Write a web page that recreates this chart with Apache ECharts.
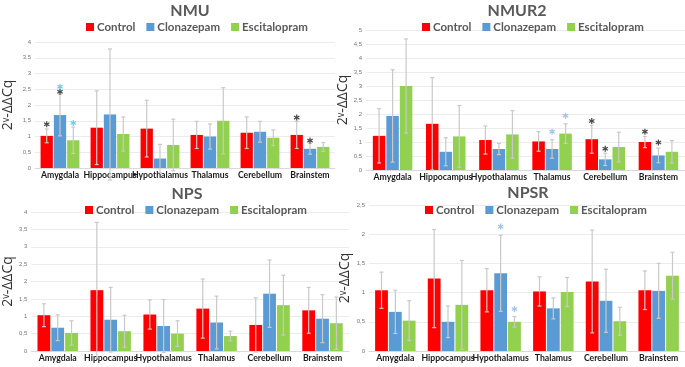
<!DOCTYPE html>
<html>
<head>
<meta charset="utf-8">
<script src="https://cdn.jsdelivr.net/npm/echarts@6/dist/echarts.min.js"></script>
<style>
  html, body { margin: 0; padding: 0; background: #fff; }
  #chart { width: 685px; height: 367px; }
</style>
</head>
<body>
<div id="chart"></div>
<script>
const regions = ["Amygdala", "Hippocampus", "Hypothalamus", "Thalamus", "Cerebellum", "Brainstem"];
const groups = ["Control", "Clonazepam", "Escitalopram"];

// NMU
const nmuControl = [1.02, 1.28, 1.25, 1.05, 1.12, 1.05];
const nmuControlErr = [0.22, 1.17, 0.9, 0.43, 0.5, 0.43];
const nmuClonazepam = [1.68, 1.7, 0.3, 1.0, 1.15, 0.61];
const nmuClonazepamErr = [0.66, 2.08, 0.45, 0.4, 0.33, 0.17];
const nmuEscitalopram = [0.88, 1.08, 0.73, 1.5, 0.96, 0.67];
const nmuEscitalopramErr = [0.42, 0.54, 0.82, 1.05, 0.25, 0.14];
// [group, region, height, colour key]
const nmuStars = [[0, 0, 1.39, "k"], [1, 0, 2.42, "k"], [1, 0, 2.58, "c"], [2, 0, 1.43, "c"], [0, 5, 1.6, "k"], [1, 5, 0.87, "k"]];

// NMUR2
const nmur2Control = [1.22, 1.65, 1.07, 1.02, 1.1, 1.0];
const nmur2ControlErr = [0.97, 1.65, 0.5, 0.35, 0.5, 0.2];
const nmur2Clonazepam = [1.93, 0.65, 0.75, 0.75, 0.38, 0.52];
const nmur2ClonazepamErr = [1.65, 0.5, 0.2, 0.33, 0.22, 0.26];
const nmur2Escitalopram = [3.0, 1.2, 1.27, 1.3, 0.82, 0.65];
const nmur2EscitalopramErr = [1.68, 1.1, 0.85, 0.35, 0.53, 0.4];
const nmur2Stars = [[1, 3, 1.37, "b"], [2, 3, 1.94, "b"], [0, 4, 1.75, "k"], [1, 4, 0.76, "k"], [0, 5, 1.37, "k"], [1, 5, 0.98, "k"]];

// NPS
const npsControl = [1.03, 1.75, 1.05, 1.22, 0.75, 1.17];
const npsControlErr = [0.33, 1.95, 0.42, 0.85, 0.78, 0.66];
const npsClonazepam = [0.67, 0.9, 0.72, 0.82, 1.65, 0.93];
const npsClonazepamErr = [0.37, 0.93, 0.76, 0.76, 0.97, 0.69];
const npsEscitalopram = [0.52, 0.57, 0.5, 0.43, 1.32, 0.8];
const npsEscitalopramErr = [0.35, 0.46, 0.37, 0.14, 0.86, 0.75];
const npsStars = [];

// NPSR
const npsrControl = [1.04, 1.24, 1.04, 1.02, 1.19, 1.04];
const npsrControlErr = [0.31, 0.84, 0.37, 0.25, 0.88, 0.33];
const npsrClonazepam = [0.67, 0.5, 1.33, 0.73, 0.86, 1.03];
const npsrClonazepamErr = [0.37, 0.27, 0.65, 0.18, 0.54, 0.47];
const npsrEscitalopram = [0.52, 0.79, 0.5, 1.01, 0.51, 1.29];
const npsrEscitalopramErr = [0.34, 0.76, 0.09, 0.25, 0.24, 0.4];
const npsrStars = [[1, 2, 2.13, "b"], [2, 2, 0.72, "b"]];

const COLORS = ["#ff0000", "#5b9bd5", "#92d050"];
const STAR_COLORS = { k: "#1a1a1a", c: "#3cc6e8", b: "#8fb3e3" };
const FONT = "Lato, 'Open Sans', sans-serif";
const STAR = "path://M4,0h2v3.3l2.9-1.7 1,1.7-2.9,1.7 2.9,1.7-1,1.7-2.9-1.7v3.3h-2v-3.3l-2.9,1.7-1-1.7 2.9-1.7-2.9-1.7 1-1.7 2.9,1.7z";

const panels = [
  { title: "NMU", cx: 185, top: -2, legendLeft: 86, legendTop: 21, grid: { left: 33, top: 42, width: 302, height: 126 }, max: 4, bw: 12.3, nameGap: 20,
    vals: [nmuControl, nmuClonazepam, nmuEscitalopram], errs: [nmuControlErr, nmuClonazepamErr, nmuEscitalopramErr], stars: nmuStars },
  { title: "NMUR2", cx: 512, top: -2, legendLeft: 422, legendTop: 21, grid: { left: 366, top: 30, width: 323, height: 140 }, max: 5, bw: 12.5, nameGap: 13,
    vals: [nmur2Control, nmur2Clonazepam, nmur2Escitalopram], errs: [nmur2ControlErr, nmur2ClonazepamErr, nmur2EscitalopramErr], stars: nmur2Stars },
  { title: "NPS", cx: 182, top: 181, legendLeft: 85, legendTop: 204, grid: { left: 27, top: 212, width: 322, height: 139 }, max: 4, bw: 12.8, nameGap: 12,
    vals: [npsControl, npsClonazepam, npsEscitalopram], errs: [npsControlErr, npsClonazepamErr, npsEscitalopramErr], stars: npsStars },
  { title: "NPSR", cx: 523, top: 180, legendLeft: 425, legendTop: 204, grid: { left: 369, top: 205, width: 316, height: 146 }, max: 2.5, bw: 12.8, nameGap: 17,
    vals: [npsrControl, npsrClonazepam, npsrEscitalopram], errs: [npsrControlErr, npsrClonazepamErr, npsrEscitalopramErr], stars: npsrStars },
];

const chart = echarts.init(document.getElementById("chart"));

const option = {
  animation: false,
  backgroundColor: "#fff",
  title: [],
  legend: [],
  grid: [],
  xAxis: [],
  yAxis: [],
  series: [],
};

panels.forEach((p, gi) => {
  option.title.push({
    text: p.title,
    left: p.cx,
    top: p.top,
    textAlign: "center",
    textStyle: { fontFamily: FONT, fontSize: 16, fontWeight: "bold", color: "#595959" },
  });
  option.legend.push({
    data: groups,
    left: p.legendLeft,
    top: p.legendTop,
    width: 300,
    padding: 0,
    icon: "rect",
    itemWidth: 8,
    itemHeight: 8,
    itemGap: 11,
    selectedMode: false,
    textStyle: { fontFamily: FONT, fontSize: 11.5, fontWeight: "bold", color: "#595959", padding: [0, 0, 0, -2] },
  });
  option.grid.push(Object.assign({ containLabel: false }, p.grid));
  option.xAxis.push({
    type: "category",
    gridIndex: gi,
    data: regions,
    axisTick: { show: false },
    axisLine: { lineStyle: { color: "#d9d9d9" } },
    axisLabel: { interval: 0, margin: 3, fontFamily: FONT, fontSize: 8.7, fontWeight: "bold", color: "#1a1a1a" },
  });
  option.yAxis.push({
    type: "value",
    gridIndex: gi,
    min: 0,
    max: p.max,
    interval: 0.5,
    name: "2ᵛ-ΔΔCq",
    nameLocation: "middle",
    nameGap: p.nameGap,
    nameTextStyle: { fontFamily: "'Open Sans', sans-serif", fontSize: 14, color: "#333" },
    axisLine: { show: false },
    axisTick: { show: false },
    axisLabel: {
      margin: 4,
      fontSize: 6,
      color: "#777",
      formatter: (v) => String(v).replace(".", ","),
    },
    splitLine: { lineStyle: { color: "#ececec" } },
  });

  const step = p.bw * 1.08;
  groups.forEach((g, si) => {
    option.series.push({
      name: g,
      type: "bar",
      xAxisIndex: gi,
      yAxisIndex: gi,
      data: p.vals[si],
      barWidth: p.bw,
      barGap: "8%",
      itemStyle: { color: COLORS[si] },
    });
  });

  // error bars
  const errData = [];
  groups.forEach((g, si) => {
    p.vals[si].forEach((v, ci) => errData.push([ci, v, p.errs[si][ci], si]));
  });
  option.series.push({
    type: "custom",
    xAxisIndex: gi,
    yAxisIndex: gi,
    z: 5,
    clip: false,
    data: errData,
    renderItem: (params, api) => {
      const ci = api.value(0), v = api.value(1), e = api.value(2), si = api.value(3);
      const off = (si - 1) * step;
      const hi = api.coord([ci, v + e]);
      const lo = api.coord([ci, v - e]);
      const x = hi[0] + off;
      const style = { stroke: "#c9c9c9", lineWidth: 1.2 };
      return {
        type: "group",
        children: [
          { type: "line", shape: { x1: x, y1: hi[1], x2: x, y2: lo[1] }, style },
          { type: "line", shape: { x1: x - 2, y1: hi[1], x2: x + 2, y2: hi[1] }, style },
          { type: "line", shape: { x1: x - 2, y1: lo[1], x2: x + 2, y2: lo[1] }, style },
        ],
      };
    },
  });

  // significance marks
  option.series.push({
    type: "scatter",
    xAxisIndex: gi,
    yAxisIndex: gi,
    z: 6,
    symbol: STAR,
    symbolSize: 6,
    data: p.stars.map((s) => ({
      value: [s[1], s[2]],
      symbolOffset: [(s[0] - 1) * step, 0],
      itemStyle: { color: STAR_COLORS[s[3]] },
    })),
  });
});

chart.setOption(option);
</script>
</body>
</html>
